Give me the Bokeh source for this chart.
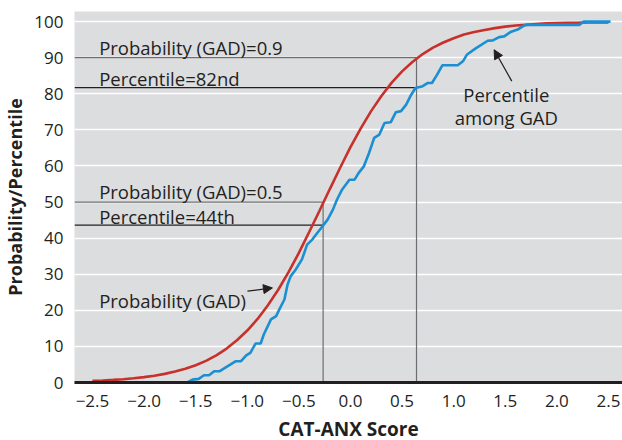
from bokeh.plotting import figure
from bokeh.models import Range1d, FixedTicker, Arrow, NormalHead, Label
from bokeh.embed import file_html
from bokeh.resources import INLINE

# ---- data ----
red_x = [-2.5, -2.4, -2.3, -2.2, -2.1, -2.0, -1.9, -1.8, -1.7, -1.6,
         -1.5, -1.4, -1.3, -1.2, -1.1, -1.0, -0.9, -0.8, -0.7, -0.6,
         -0.5, -0.4, -0.3, -0.2, -0.1, 0.0, 0.1, 0.2, 0.3, 0.4,
         0.5, 0.6, 0.7, 0.8, 0.9, 1.0, 1.1, 1.2, 1.3, 1.4,
         1.5, 1.6, 1.7, 1.8, 1.9, 2.0, 2.1, 2.2, 2.3, 2.4, 2.5]
red_y = [0.45, 0.57, 0.73, 0.92, 1.17, 1.49, 1.89, 2.39, 3.02, 3.80,
         4.8, 6.0, 7.5, 9.4, 11.7, 14.4, 17.6, 21.4, 25.7, 30.6,
         35.9, 41.7, 47.6, 53.6, 59.5, 65.2, 70.4, 75.2, 79.4, 83.1,
         86.2, 88.8, 91.0, 92.8, 94.2, 95.4, 96.4, 97.1, 97.7, 98.2,
         98.6, 98.9, 99.1, 99.3, 99.5, 99.6, 99.7, 99.7, 99.8, 99.8, 99.8]

blue_x = [-2.5, -1.58, -1.53, -1.47, -1.42, -1.37, -1.32, -1.27, -1.22, -1.11,
          -1.06, -1.01, -0.97, -0.92, -0.87, -0.84, -0.77, -0.72, -0.69, -0.64,
          -0.61, -0.58, -0.53, -0.47, -0.42, -0.37, -0.32, -0.27, -0.22, -0.17,
          -0.13, -0.08, -0.01, 0.04, 0.08, 0.13, 0.18, 0.23, 0.28, 0.33,
          0.39, 0.44, 0.49, 0.54, 0.58, 0.63, 0.70, 0.75, 0.79, 0.84,
          0.89, 1.04, 1.09, 1.13, 1.21, 1.33, 1.38, 1.44, 1.49, 1.55,
          1.62, 1.67, 1.70, 2.22, 2.26, 2.52]
blue_y = [0, 0, 0.8, 1, 2, 2, 3.1, 3.1, 4, 5.9,
          5.9, 7.5, 8.2, 10.8, 10.8, 13.3, 17.5, 18.4, 20.2, 23,
          27.1, 29.4, 31.3, 34.1, 38.2, 39.6, 41.5, 43.3, 45.2, 47.9,
          50.7, 53.5, 56.2, 56.2, 58.1, 59.9, 63.6, 67.8, 68.7, 71.9,
          72.1, 74.9, 75.2, 77, 79.3, 81.6, 82.1, 83, 83, 85.3,
          87.9, 87.9, 89, 90.9, 92.5, 94.7, 94.8, 95.7, 95.9, 97.1,
          97.8, 98.7, 99.1, 99.1, 100, 100]

# reference cut-offs: score where probability reaches 0.5 / 0.9
cut_scores = [-0.265, 0.64]
prob_levels = [50, 90]
pct_levels = [43.6, 81.7]
prob_texts = ["Probability (GAD)=0.5", "Probability (GAD)=0.9"]
pct_texts = ["Percentile=44th", "Percentile=82nd"]

x_ticks = [-2.5, -2.0, -1.5, -1.0, -0.5, 0.0, 0.5, 1.0, 1.5, 2.0, 2.5]
x_tick_labels = ["\u22122.5", "\u22122.0", "\u22121.5", "\u22121.0", "\u22120.5",
                 "0.0", "0.5", "1.0", "1.5", "2.0", "2.5"]
y_ticks = [0, 10, 20, 30, 40, 50, 60, 70, 80, 90, 100]

FONT = "Open Sans"
DARK = "#231f20"
RED = "#c8312b"
BLUE = "#1b8fd2"

x0, x1 = -2.674, 2.636
p = figure(frame_width=548, frame_height=371,
           x_range=Range1d(x0, x1), y_range=Range1d(0, 102.8),
           output_backend="svg", toolbar_location=None,
           min_border_left=64, min_border_right=2, min_border_top=11, min_border_bottom=52)

p.background_fill_color = "#dcdddf"
p.border_fill_color = "white"
p.outline_line_color = None

p.xgrid.visible = False
p.ygrid.ticker = FixedTicker(ticks=y_ticks)
p.ygrid.grid_line_color = "white"
p.ygrid.grid_line_width = 1.6

p.xaxis.ticker = FixedTicker(ticks=x_ticks)
p.xaxis.major_label_overrides = {t: l for t, l in zip(x_ticks, x_tick_labels)}
p.yaxis.ticker = FixedTicker(ticks=y_ticks)
for ax in (p.xaxis, p.yaxis):
    ax.major_tick_line_color = None
    ax.minor_tick_line_color = None
    ax.major_label_text_font = FONT
    ax.major_label_text_font_size = "17px"
    ax.major_label_text_color = DARK
    ax.axis_label_text_font = FONT
    ax.axis_label_text_font_style = "bold"
    ax.axis_label_text_color = DARK
p.xaxis.axis_label_text_font_size = "19px"
p.yaxis.axis_label_text_font_size = "18px"
p.xaxis.axis_line_width = 3
p.xaxis.axis_line_color = DARK
p.yaxis.axis_line_color = None
p.xaxis.major_label_standoff = 6
p.yaxis.major_label_standoff = 5
p.xaxis.axis_label = "CAT-ANX Score"
p.yaxis.axis_label = "Probability/Percentile"
p.xaxis.axis_label_standoff = 6
p.yaxis.axis_label_standoff = 4

# reference lines
for xs, pl, ql in zip(cut_scores, prob_levels, pct_levels):
    p.line([x0, xs], [pl, pl], line_color="#6d6e71", line_width=1.2)
    p.line([x0, xs], [ql, ql], line_color=DARK, line_width=1.2)
    p.line([xs, xs], [0, pl], line_color="#6d6e71", line_width=1.2)

p.line(red_x, red_y, line_color=RED, line_width=2.6)
p.line(blue_x, blue_y, line_color=BLUE, line_width=2.6)

TS = "18.5px"
text_x = -2.435
for t, yb in zip(prob_texts + pct_texts, [52.9, 92.8, 46.1, 84.2]):
    p.add_layout(Label(x=text_x, y=yb, text=t, text_font=FONT, text_font_size=TS,
                       text_color=DARK, text_baseline="alphabetic", text_align="left"))
p.add_layout(Label(x=text_x, y=22.7, text="Probability (GAD)", text_font=FONT,
                   text_font_size=TS, text_color=DARK, text_baseline="alphabetic"))
p.add_layout(Label(x=1.51, y=79.9, text="Percentile", text_font=FONT,
                   text_font_size=TS, text_color=DARK, text_baseline="alphabetic",
                   text_align="center"))
p.add_layout(Label(x=1.51, y=73.4, text="among GAD", text_font=FONT,
                   text_font_size=TS, text_color=DARK, text_baseline="alphabetic",
                   text_align="center"))

p.add_layout(Arrow(end=NormalHead(size=9, fill_color=DARK, line_color=DARK),
                   x_start=-0.998, y_start=25.3, x_end=-0.756, y_end=26.2,
                   line_color=DARK, line_width=1.3))
p.add_layout(Arrow(end=NormalHead(size=9, fill_color=DARK, line_color=DARK),
                   x_start=1.563, y_start=83.5, x_end=1.392, y_end=92.2,
                   line_color=DARK, line_width=1.3))

open("out.html", "w").write(file_html(p, INLINE))
